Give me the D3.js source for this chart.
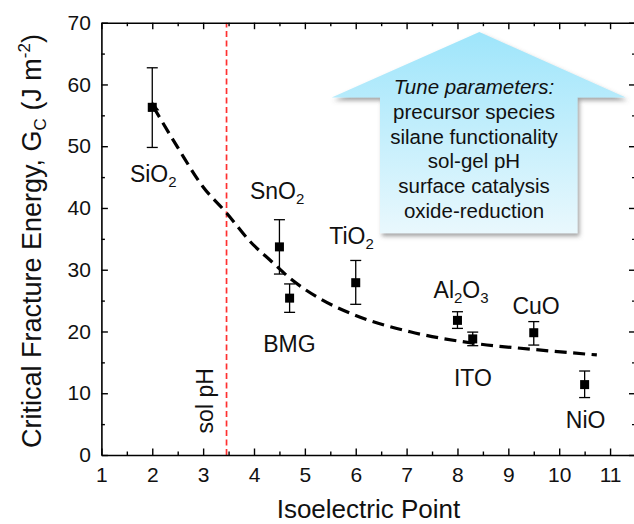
<!DOCTYPE html>
<html>
<head>
<meta charset="utf-8">
<script src="https://cdn.jsdelivr.net/npm/d3@7"></script>
<style>
  html, body { margin: 0; padding: 0; background: #fff; }
  svg { display: block; font-family: "Liberation Sans", Arial, sans-serif; }
</style>
</head>
<body>
<svg id="chart" width="634" height="524"></svg>
<script>
// ---------- data ----------
const materials = ["SiO2", "SnO2", "BMG", "TiO2", "Al2O3", "ITO", "CuO", "NiO"];
const isoelectricPoint = [2, 4.5, 4.7, 6, 8, 8.3, 9.5, 10.5];
const fractureEnergy = [56.3, 33.7, 25.4, 27.9, 21.8, 18.8, 19.8, 11.4];
const errLow = [49.8, 29.3, 23.1, 24.4, 20.5, 17.7, 17.8, 9.3];
const errHigh = [62.7, 38.1, 27.7, 31.5, 23.2, 19.9, 21.6, 13.6];
// label anchor (left x, baseline y) in data units
const labelX = [1.56, 3.92, 4.18, 5.48, 7.53, 7.93, 9.08, 10.13];
const labelY = [44.2, 41.5, 16.7, 34.1, 25.4, 11.2, 22.9, 4.3];
// guide-to-the-eye trend curve
const trendX = [2.02, 2.5, 3.0, 3.46, 3.92, 4.35, 4.71, 5.3, 6.0, 7.07, 8.31, 9.49, 10.74];
const trendY = [56.4, 49.8, 43.4, 39.2, 34.6, 31.3, 28.6, 25.3, 22.6, 19.95, 18.1, 17.1, 16.2];
const solPH = 3.46;
const xTicks = [1, 2, 3, 4, 5, 6, 7, 8, 9, 10, 11];
const yTicks = [0, 10, 20, 30, 40, 50, 60, 70];
const boxLines = ["Tune parameters:", "precursor species", "silane functionality", "sol-gel pH", "surface catalysis", "oxide-reduction"];

// ---------- layout ----------
const svg = d3.select("#chart");
const x = d3.scaleLinear().domain([1, 11.5]).range([101.4, 635.5]);
const y = d3.scaleLinear().domain([0, 70]).range([455, 22.7]);
const X0 = x.range()[0], X1 = x.range()[1], Y0 = y.range()[0], Y1 = y.range()[1];

const defs = svg.append("defs");
const grad = defs.append("linearGradient").attr("id", "boxGrad")
  .attr("x1", 0).attr("y1", 0).attr("x2", 0).attr("y2", 1);
grad.append("stop").attr("offset", "0%").attr("stop-color", "#9ee5fb");
grad.append("stop").attr("offset", "100%").attr("stop-color", "#e9f8fd");
const filt = defs.append("filter").attr("id", "shadow")
  .attr("x", "-10%").attr("y", "-10%").attr("width", "130%").attr("height", "130%");
filt.append("feDropShadow").attr("dx", 2).attr("dy", 3).attr("stdDeviation", 2)
  .attr("flood-color", "#555").attr("flood-opacity", 0.55);

// ---------- arrow annotation ----------
const arrowPts = [[8.43, 68.5], [11.31, 57.9], [10.36, 57.9], [10.36, 35.9],
                  [6.477, 35.9], [6.477, 57.9], [5.527, 57.9]];
svg.append("polygon")
  .attr("points", arrowPts.map(p => [x(p[0]), y(p[1])].join(",")).join(" "))
  .attr("fill", "url(#boxGrad)")
  .attr("filter", "url(#shadow)");
const boxText = svg.append("g").attr("font-size", 20.5).attr("fill", "#111").attr("text-anchor", "middle");
boxLines.forEach((t, i) => {
  boxText.append("text")
    .attr("x", 474).attr("y", 94 + i * 24.8)
    .attr("font-style", i === 0 ? "italic" : "normal")
    .text(t);
});

// ---------- sol pH line ----------
svg.append("line")
  .attr("x1", x(solPH)).attr("x2", x(solPH))
  .attr("y1", y(0)).attr("y2", y(70))
  .attr("stroke", "#ff3030").attr("stroke-width", 1.7)
  .attr("stroke-dasharray", "6,3.5");
svg.append("text")
  .attr("transform", `translate(213,${400.8}) rotate(-90)`)
  .attr("text-anchor", "middle").attr("font-size", 23).attr("fill", "#111")
  .text("sol pH");

// ---------- trend curve ----------
const trend = trendX.map((v, i) => [v, trendY[i]]);
svg.append("path")
  .datum(trend)
  .attr("d", d3.line().x(d => x(d[0])).y(d => y(d[1])).curve(d3.curveMonotoneX))
  .attr("fill", "none").attr("stroke", "#000").attr("stroke-width", 3.2)
  .attr("stroke-dasharray", "12,6.5");
svg.append("path")
  .attr("d", d3.symbol().type(d3.symbolTriangle).size(55)())
  .attr("transform", `translate(${x(trendX[0])},${y(trendY[0]) + 1}) rotate(-8)`)
  .attr("fill", "#000");

// ---------- error bars & points ----------
const pts = svg.append("g");
materials.forEach((m, i) => {
  const cx = x(isoelectricPoint[i]);
  pts.append("line").attr("x1", cx).attr("x2", cx)
    .attr("y1", y(errLow[i])).attr("y2", y(errHigh[i]))
    .attr("stroke", "#000").attr("stroke-width", 1.3);
  [errLow[i], errHigh[i]].forEach(v => {
    pts.append("line").attr("x1", cx - 5.5).attr("x2", cx + 5.5)
      .attr("y1", y(v)).attr("y2", y(v))
      .attr("stroke", "#000").attr("stroke-width", 1.3);
  });
  pts.append("rect")
    .attr("x", cx - 4.5).attr("y", y(fractureEnergy[i]) - 4.5)
    .attr("width", 9).attr("height", 9).attr("fill", "#000");
});

// ---------- data labels with subscripts ----------
function addChem(sel, str) {
  const parts = str.match(/[A-Za-z]+|\d+/g);
  parts.forEach(p => {
    if (/^\d+$/.test(p)) {
      sel.append("tspan").attr("font-size", 15).attr("baseline-shift", "-5").text(p);
    } else {
      sel.append("tspan").text(p);
    }
  });
}
const labels = svg.append("g").attr("font-size", 23).attr("fill", "#111");
materials.forEach((m, i) => {
  const t = labels.append("text").attr("x", x(labelX[i])).attr("y", y(labelY[i]));
  addChem(t, m);
});

// ---------- axes ----------
function styleAxis(g) {
  g.select(".domain").attr("stroke-width", 1.6);
  g.selectAll(".tick line").attr("stroke-width", 1.4);
  g.selectAll("text").attr("font-size", 21).attr("fill", "#111")
    .attr("font-family", '"Liberation Sans", Arial, sans-serif');
}
const xMinor = d3.range(1.5, 11.6, 1);
const yMinor = d3.range(5, 70, 10);

// bottom
svg.append("g").attr("transform", `translate(0,${Y0})`)
  .call(d3.axisBottom(x).tickValues(xTicks).tickFormat(d3.format("d")).tickSize(-6.5).tickSizeOuter(0).tickPadding(12))
  .call(styleAxis);
svg.append("g").attr("transform", `translate(0,${Y0})`)
  .call(d3.axisBottom(x).tickValues(xMinor).tickFormat("").tickSize(-3.5).tickSizeOuter(0))
  .call(g => g.select(".domain").remove()).call(styleAxis);
// top
svg.append("g").attr("transform", `translate(0,${Y1})`)
  .call(d3.axisTop(x).tickValues(xTicks).tickFormat("").tickSize(-6.5).tickSizeOuter(0))
  .call(styleAxis);
svg.append("g").attr("transform", `translate(0,${Y1})`)
  .call(d3.axisTop(x).tickValues(xMinor).tickFormat("").tickSize(-3.5).tickSizeOuter(0))
  .call(g => g.select(".domain").remove()).call(styleAxis);
// left
svg.append("g").attr("transform", `translate(${X0},0)`)
  .call(d3.axisLeft(y).tickValues(yTicks).tickFormat(d3.format("d")).tickSize(-6.5).tickSizeOuter(0).tickPadding(10.5))
  .call(styleAxis);
svg.append("g").attr("transform", `translate(${X0},0)`)
  .call(d3.axisLeft(y).tickValues(yMinor).tickFormat("").tickSize(-3.5).tickSizeOuter(0))
  .call(g => g.select(".domain").remove()).call(styleAxis);
// right
svg.append("g").attr("transform", `translate(${X1},0)`)
  .call(d3.axisRight(y).tickValues(yTicks).tickFormat("").tickSize(-6.5).tickSizeOuter(0))
  .call(styleAxis);
svg.append("g").attr("transform", `translate(${X1},0)`)
  .call(d3.axisRight(y).tickValues(yMinor).tickFormat("").tickSize(-3.5).tickSizeOuter(0))
  .call(g => g.select(".domain").remove()).call(styleAxis);

// ---------- axis titles ----------
svg.append("text")
  .attr("x", (X0 + X1) / 2).attr("y", 518)
  .attr("text-anchor", "middle").attr("font-size", 26).attr("fill", "#111")
  .text("Isoelectric Point");

const yt = svg.append("text")
  .attr("transform", `translate(41,241) rotate(-90)`)
  .attr("text-anchor", "middle").attr("font-size", 27).attr("fill", "#111");
yt.append("tspan").text("Critical Fracture Energy, G");
yt.append("tspan").attr("font-size", 17).attr("baseline-shift", "-5").text("C");
yt.append("tspan").text(" (J m");
yt.append("tspan").attr("font-size", 17).attr("baseline-shift", "11").text("-2");
yt.append("tspan").text(")");
</script>
</body>
</html>
